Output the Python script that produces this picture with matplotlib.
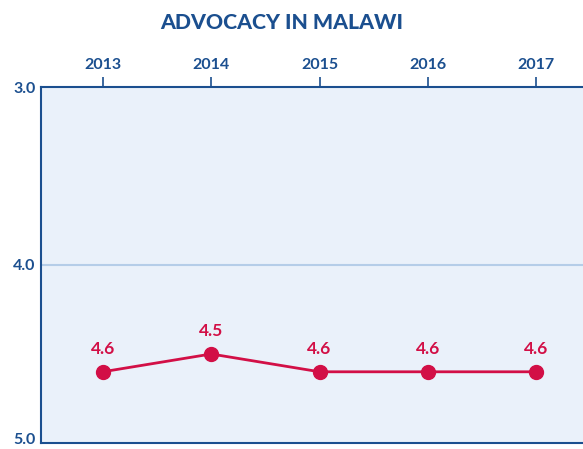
import matplotlib.pyplot as plt
from matplotlib.transforms import ScaledTranslation

years = [2013, 2014, 2015, 2016, 2017]
scores = [4.6, 4.5, 4.6, 4.6, 4.6]
y_ticks = [3.0, 4.0, 5.0]

navy = "#1B4F8F"
red = "#D20F46"
panel = "#EAF1FA"

plt.rcParams["font.family"] = ["Lato", "DejaVu Sans"]

fig = plt.figure(figsize=(5.83, 4.49), dpi=100)
ax = fig.add_axes([0.0703, 0.0134, 0.9297, 0.7928])
ax.set_facecolor(panel)

ax.plot(years, scores, color=red, lw=2.0, marker="o", ms=10, zorder=3)
for x, y in zip(years, scores):
    ax.annotate(f"{y:.1f}", (x, y), xytext=(0, 11), textcoords="offset points",
                ha="center", va="bottom", color=red, fontsize=12.5, fontweight="bold")

ax.set_xlim(2012.43, 2017.43)
ax.set_ylim(5.0, 3.0)
ax.axhline(4.0, color="#B5CDE8", lw=1.5, zorder=1)

ax.xaxis.tick_top()
ax.set_xticks(years)
ax.set_xticklabels([str(y) for y in years])
ax.tick_params(axis="x", colors=navy, length=7, width=1.2, pad=4,
               labelsize=11.5, labelcolor=navy)
for lbl in ax.get_xticklabels():
    lbl.set_fontweight("bold")

ax.set_yticks(y_ticks)
ax.set_yticklabels([f"{v:.1f}" for v in y_ticks])
ax.tick_params(axis="y", length=0, pad=4, labelsize=11.5, labelcolor=navy)
for lbl in ax.get_yticklabels():
    lbl.set_fontweight("bold")
# nudge the bottom label up so it stays inside the figure
bottom_lbl = ax.get_yticklabels()[-1]
bottom_lbl.set_transform(bottom_lbl.get_transform()
                         + ScaledTranslation(0, 3 / 72, fig.dpi_scale_trans))

for side in ["top", "left", "bottom"]:
    ax.spines[side].set_color(navy)
    ax.spines[side].set_linewidth(1.5)
ax.spines["right"].set_visible(False)

fig.text(0.484, 0.949, "ADVOCACY IN MALAWI", ha="center", va="center",
         color=navy, fontsize=15.3, fontweight="black")

fig.savefig("out.png", dpi=100)
